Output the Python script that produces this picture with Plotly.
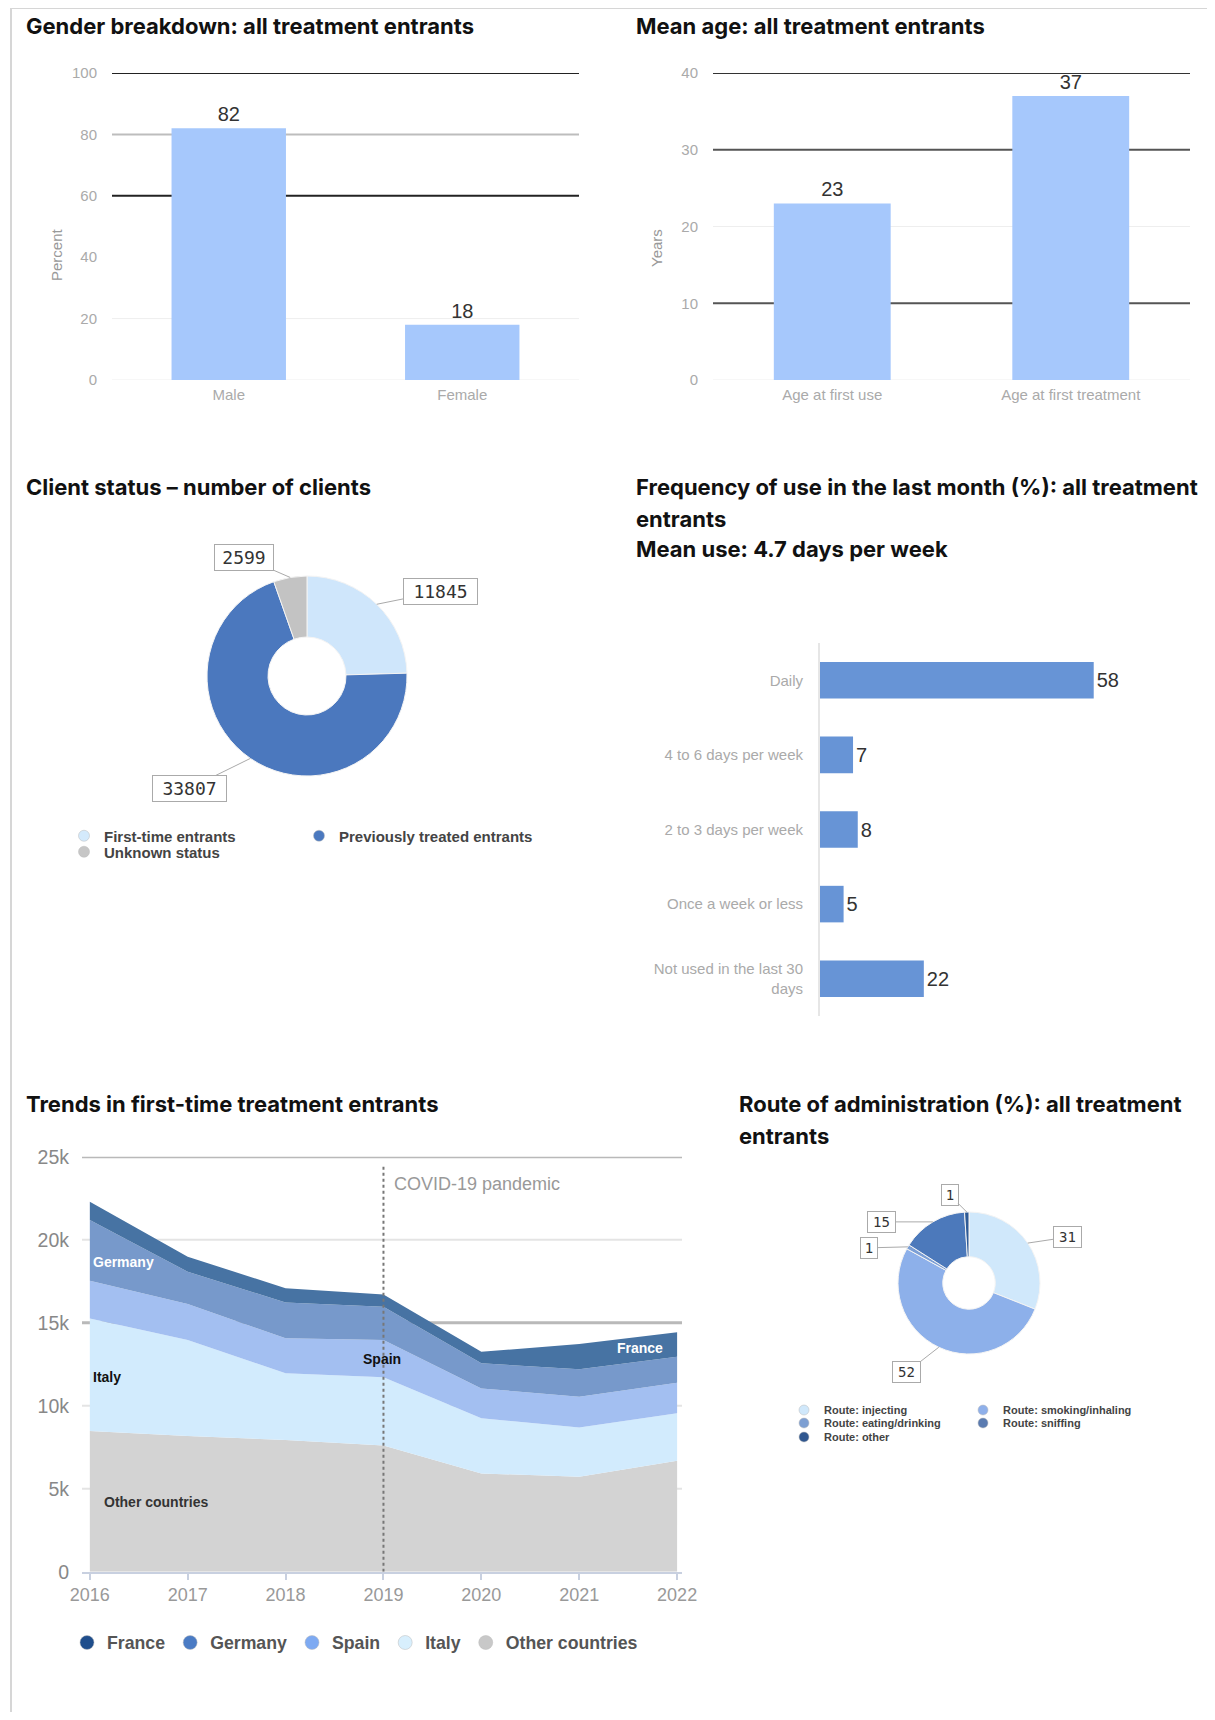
import math
import plotly.graph_objects as go

# page is rendered with an 8px body margin; keep the figure inside the 1215x1720 window
OFF = 8
FIG_W, FIG_H = 1199, 1704

# ---------------- data ----------------
gender_cats = ["Male", "Female"]
gender_vals = [82, 18]

age_cats = ["Age at first use", "Age at first treatment"]
age_vals = [23, 37]

client_labels = ["First-time entrants", "Previously treated entrants", "Unknown status"]
client_vals = [11845, 33807, 2599]

freq_cats = ["Daily", "4 to 6 days per week", "2 to 3 days per week",
             "Once a week or less", "Not used in the last 30<br>days"]
freq_vals = [58, 7, 8, 5, 22]

years = [2016, 2017, 2018, 2019, 2020, 2021, 2022]
other_countries = [8470, 8170, 7930, 7600, 5920, 5720, 6690]
italy = [6790, 5790, 4020, 4110, 3320, 2970, 2850]
spain = [2270, 2160, 2110, 2250, 1800, 1850, 1850]
germany = [3650, 1950, 2160, 2000, 1510, 1650, 1560]
france = [1110, 910, 850, 740, 700, 1520, 1470]

route_labels = ["Route: injecting", "Route: smoking/inhaling", "Route: eating/drinking",
                "Route: sniffing", "Route: other"]
route_vals = [31, 52, 1, 15, 1]


# ---------------- helpers (window pixel -> paper fraction) ----------------
def px(x):
    return (x - OFF) / FIG_W


def py(y):
    return 1 - (y - OFF) / FIG_H


TITLE_FONT = dict(family="Inter", size=22, color="#111", weight="bold")
SMALL = "Liberation Sans"

fig = go.Figure()
annotations = []
shapes = []

# page frame
shapes.append(dict(type="line", xref="paper", yref="paper", x0=px(11), x1=px(11), y0=0, y1=py(8),
                   line=dict(color="#d6d6d6", width=2)))
shapes.append(dict(type="line", xref="paper", yref="paper", x0=px(11), x1=1, y0=py(8), y1=py(8),
                   line=dict(color="#d6d6d6", width=2)))

# titles
titles = [
    ("Gender breakdown: all treatment entrants", 24, 26),
    ("Mean age: all treatment entrants", 634, 26),
    ("Client status \u2013 number of clients", 24, 487),
    ("Frequency of use in the last month (%): all treatment", 634, 487),
    ("entrants", 634, 519),
    ("Mean use: 4.7 days per week", 634, 549),
    ("Trends in first-time treatment entrants", 24, 1104),
    ("Route of administration (%): all treatment", 737, 1104),
    ("entrants", 737, 1136),
]
for t, x, y in titles:
    annotations.append(dict(text=t, x=px(x), y=py(y), xref="paper", yref="paper",
                            xanchor="left", yanchor="middle", showarrow=False, font=TITLE_FONT))

BAR_LIGHT = "#a6c8fc"
VAL_FONT = dict(family=SMALL, size=20, color="#333")

# ---------------- gender ----------------
fig.add_trace(go.Bar(x=gender_cats, y=gender_vals, marker=dict(color=BAR_LIGHT, line=dict(width=0)),
                     text=gender_vals, textposition="outside", cliponaxis=False, textfont=VAL_FONT,
                     xaxis="x", yaxis="y", showlegend=False, hoverinfo="skip"))
gender_grid = [(100, "#222", 2), (80, "#bdbdbd", 2), (60, "#222", 2), (20, "#eeeeee", 1), (0, "#eeeeee", 1)]
for v, c, w in gender_grid:
    shapes.append(dict(type="line", xref="x domain", yref="y", x0=0, x1=1, y0=v, y1=v,
                       line=dict(color=c, width=w), layer="below"))
annotations.append(dict(text="Percent", x=px(46), y=py(226), xref="paper", yref="paper", textangle=-90,
                        showarrow=False, font=dict(family=SMALL, size=15, color="#999")))

# ---------------- age ----------------
fig.add_trace(go.Bar(x=age_cats, y=age_vals, marker=dict(color=BAR_LIGHT, line=dict(width=0)),
                     text=age_vals, textposition="outside", cliponaxis=False, textfont=VAL_FONT,
                     xaxis="x2", yaxis="y2", showlegend=False, hoverinfo="skip"))
age_grid = [(40, "#333", 2), (30, "#555", 2), (20, "#eeeeee", 1), (10, "#555", 2), (0, "#eeeeee", 1)]
for v, c, w in age_grid:
    shapes.append(dict(type="line", xref="x2 domain", yref="y2", x0=0, x1=1, y0=v, y1=v,
                       line=dict(color=c, width=w), layer="below"))
annotations.append(dict(text="Years", x=px(656), y=py(227), xref="paper", yref="paper", textangle=-90,
                        showarrow=False, font=dict(family=SMALL, size=15, color="#999")))

# ---------------- frequency ----------------
fig.add_trace(go.Bar(y=freq_cats, x=freq_vals, orientation="h",
                     marker=dict(color="#6794d6", line=dict(width=0)),
                     text=freq_vals, textposition="outside", cliponaxis=False, textfont=VAL_FONT,
                     xaxis="x3", yaxis="y3", showlegend=False, hoverinfo="skip"))

# ---------------- trends (stacked area) ----------------
area_series = [
    ("Other countries", other_countries, "#d3d3d3", "#c8c8c8"),
    ("Italy", italy, "#d2ebfd", "#d8effd"),
    ("Spain", spain, "#a3bff1", "#7eaaf2"),
    ("Germany", germany, "#7799cb", "#4a7bc4"),
    ("France", france, "#4773a3", "#1f4e8c"),
]
for name, vals, fillc, _ in area_series:
    fig.add_trace(go.Scatter(x=years, y=vals, name=name, stackgroup="one", mode="none",
                             fillcolor=fillc, line=dict(width=0), xaxis="x4", yaxis="y4",
                             showlegend=False, hoverinfo="skip"))
area_grid = [(5000, "#e4e4e4", 2), (10000, "#e4e4e4", 2), (15000, "#b9b9b9", 3),
             (20000, "#e4e4e4", 2), (25000, "#b9b9b9", 3)]
for v, c, w in area_grid:
    shapes.append(dict(type="line", xref="x4 domain", yref="y4", x0=0, x1=1, y0=v, y1=v,
                       line=dict(color=c, width=w), layer="below"))
shapes.append(dict(type="line", xref="x4", yref="y4", x0=2019, x1=2019, y0=0, y1=24500,
                   line=dict(color="#777", width=2, dash="dot"), layer="above"))
annotations.append(dict(text="COVID-19 pandemic", x=2019, y=23350, xref="x4", yref="y4",
                        xanchor="left", yanchor="middle", xshift=9, showarrow=False,
                        font=dict(family=SMALL, size=18, color="#999")))
area_labels = [
    ("Germany", 2016, 18660, "left", 1, "#ffffff"),
    ("Italy", 2016, 11700, "left", 1, "#111111"),
    ("Spain", 2019, 12800, "center", -1, "#111111"),
    ("France", 2022, 13460, "right", -12, "#ffffff"),
    ("Other countries", 2016, 4200, "left", 12, "#333333"),
]
for t, x, y, xa, xs, c in area_labels:
    annotations.append(dict(text=t, x=x, y=y, xref="x4", yref="y4", xanchor=xa, xshift=xs,
                            yanchor="middle", showarrow=False,
                            font=dict(family=SMALL, size=14, color=c, weight="bold")))


# ---------------- pies ----------------
def pie_domain(cx, cy, r):
    return dict(x=[px(cx - r), px(cx + r)], y=[py(cy + r), py(cy - r)])


def slice_points(vals, cx, cy, r):
    total = float(sum(vals))
    cum = 0.0
    pts = []
    for v in vals:
        mid = (cum + v / 2.0) / total * 2 * math.pi
        cum += v
        pts.append((cx + r * math.sin(mid), cy - r * math.cos(mid)))
    return pts


def pie_labels(vals, cx, cy, r, offsets, size, char_w, extra):
    for (x, y), (ax, ay), v in zip(slice_points(vals, cx, cy, r), offsets, vals):
        txt = str(v)
        annotations.append(dict(text=txt, x=px(x), y=py(y), xref="paper", yref="paper",
                                ax=ax, ay=ay, showarrow=True, arrowhead=0, arrowwidth=1,
                                arrowcolor="#aaaaaa", bordercolor="#aaaaaa", borderwidth=1,
                                borderpad=2, bgcolor="#ffffff", width=char_w * len(txt) + extra,
                                align="center",
                                font=dict(family="DejaVu Sans Mono", size=size, color="#333")))


client_colors = ["#cfe6fb", "#4b78be", "#c3c3c3"]
CL_CX, CL_CY, CL_R = 307, 676, 100
fig.add_trace(go.Pie(values=client_vals, labels=client_labels, hole=0.39, sort=False,
                     direction="clockwise", rotation=0, textinfo="none",
                     marker=dict(colors=client_colors, line=dict(color="#f4f4f4", width=1)),
                     domain=pie_domain(CL_CX, CL_CY, CL_R), showlegend=False, hoverinfo="skip"))
pie_labels(client_vals, CL_CX, CL_CY, CL_R, [(64, -13), (-61, 30), (-46, -20)], 18, 15, -6)

route_colors = ["#d0e8fb", "#8db0ea", "#7b9fd6", "#4c79bb", "#2e5a96"]
RT_CX, RT_CY, RT_R = 969, 1283, 71
fig.add_trace(go.Pie(values=route_vals, labels=route_labels, hole=0.37, sort=False,
                     direction="clockwise", rotation=0, textinfo="none",
                     marker=dict(colors=route_colors, line=dict(color="#f4f4f4", width=1)),
                     domain=pie_domain(RT_CX, RT_CY, RT_R), showlegend=False, hoverinfo="skip"))
pie_labels(route_vals, RT_CX, RT_CY, RT_R, [(40, -6), (-32, 25), (-39, 1), (-51, 0), (-17, -17)],
           14, 11, 1)


# ---------------- legend entries (marker swatches) ----------------
def legend_entry(name, color, legend, size):
    fig.add_trace(go.Scatter(x=[None], y=[None], mode="markers", name=name, legend=legend,
                             marker=dict(color=color, size=size, symbol="circle",
                                         line=dict(color="#bbbbbb", width=0.5)),
                             showlegend=True, hoverinfo="skip", xaxis="x", yaxis="y"))


legend_entry(client_labels[0], "#d4eafc", "legend", 11)
legend_entry(client_labels[1], "#4b79bf", "legend", 11)
legend_entry(client_labels[2], "#c6c6c6", "legend2", 11)

legend_entry(route_labels[0], route_colors[0], "legend3", 10)
legend_entry(route_labels[1], "#8fb0ea", "legend3", 10)
legend_entry(route_labels[2], "#7d9fd2", "legend4", 10)
legend_entry(route_labels[3], "#5a7bb0", "legend4", 10)
legend_entry(route_labels[4], "#30578f", "legend5", 10)

for name, _, _, legc in reversed(area_series):
    legend_entry(name, legc, "legend6", 14)


def legend_box(marker_x, row_y, size, entrywidth=None, color="#444"):
    d = dict(orientation="h", x=px(marker_x - 22), y=py(row_y), xanchor="left", yanchor="middle",
             bgcolor="rgba(0,0,0,0)", font=dict(family=SMALL, size=size, color=color, weight="bold"),
             itemclick=False, itemdoubleclick=False, tracegroupgap=0, traceorder="normal")
    if entrywidth:
        d["entrywidth"] = entrywidth
        d["entrywidthmode"] = "pixels"
    return d


# ---------------- layout ----------------
AX_FONT = dict(family=SMALL, size=15, color="#aaa")
CAT_FONT = dict(family=SMALL, size=15, color="#aaa")
fig.update_layout(
    width=FIG_W, height=FIG_H, margin=dict(l=0, r=0, t=0, b=0, pad=0, autoexpand=False),
    paper_bgcolor="white", plot_bgcolor="white",
    showlegend=True,
    bargap=0.51,
    xaxis=dict(domain=[px(112), px(579)], showgrid=False, zeroline=False, showline=False,
               tickfont=AX_FONT, ticks="", ticklabelstandoff=4, automargin=False),
    yaxis=dict(domain=[py(380), py(73)], range=[0, 100], dtick=20, showgrid=False, zeroline=False,
               tickfont=AX_FONT, ticks="", ticklabelstandoff=14, automargin=False),
    xaxis2=dict(domain=[px(713), px(1190)], showgrid=False, zeroline=False, showline=False,
                tickfont=AX_FONT, ticks="", ticklabelstandoff=4, anchor="y2", automargin=False),
    yaxis2=dict(domain=[py(380), py(73)], range=[0, 40], dtick=10, showgrid=False, zeroline=False,
                tickfont=AX_FONT, ticks="", ticklabelstandoff=14, anchor="x2", automargin=False),
    xaxis3=dict(domain=[px(820), px(1190)], range=[0, 78.4], showgrid=False, zeroline=False,
                showline=False, showticklabels=False, anchor="y3", automargin=False),
    yaxis3=dict(domain=[py(1016), py(643)], autorange="reversed", showgrid=False, zeroline=False,
                showline=True, linecolor="#e6e6e6", linewidth=2, tickfont=CAT_FONT, ticks="",
                ticklabelstandoff=12, anchor="x3", automargin=False),
    xaxis4=dict(domain=[px(82), px(682)], range=[2015.92, 2022.05], tickvals=years,
                showgrid=False, zeroline=False, showline=True, linecolor="#c8d0e0", linewidth=2,
                ticks="outside", ticklen=6, tickcolor="#c8d0e0", tickwidth=2,
                tickfont=dict(family=SMALL, size=18, color="#999"), anchor="y4", automargin=False),
    yaxis4=dict(domain=[py(1571.7), py(1156.7)], range=[0, 25000],
                tickvals=[0, 5000, 10000, 15000, 20000, 25000],
                ticktext=["0", "5k", "10k", "15k", "20k", "25k"], showgrid=False, zeroline=False,
                showline=False, tickfont=dict(family=SMALL, size=19.5, color="#888"), ticks="",
                ticklabelstandoff=12, anchor="x4", automargin=False),
    legend=legend_box(86, 836, 15, 190),
    legend2=legend_box(86, 852, 15),
    legend3=legend_box(806, 1410, 11, 134),
    legend4=legend_box(806, 1423, 11, 134),
    legend5=legend_box(806, 1437, 11),
    legend6=legend_box(89, 1643, 17.7, None, "#555"),
    annotations=annotations,
    shapes=shapes,
)

fig.write_html("out.html")
